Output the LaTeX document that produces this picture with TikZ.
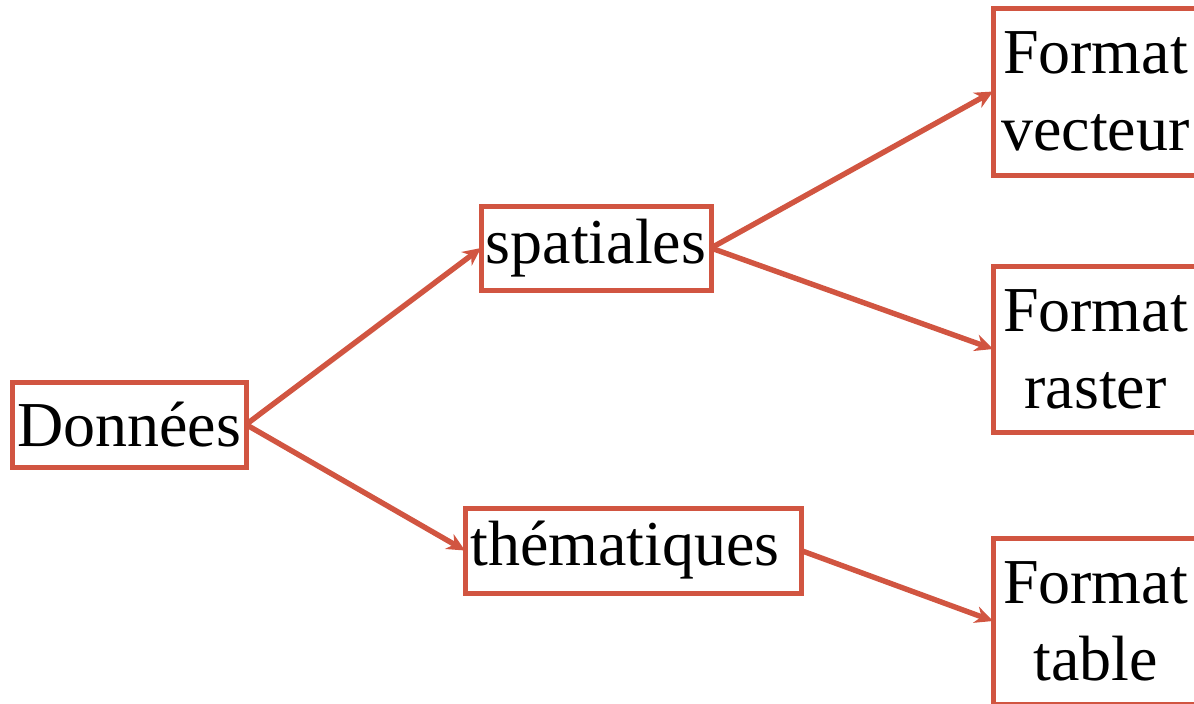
\documentclass[tikz,border=0pt]{standalone}
\usepackage{fontspec}
\setmainfont{Liberation Serif}
\usetikzlibrary{arrows.meta}
\definecolor{boxred}{RGB}{209,85,65}
\begin{document}
\begin{tikzpicture}[x=0.5pt,y=-0.5pt,
  box/.style={draw=boxred,line width=2.5pt,rectangle,inner sep=0pt,outer sep=0pt,
    font=\fontsize{32}{38.5}\selectfont,align=center,text=black},
  conn/.style={draw=boxred,line width=2.7pt,-{Stealth[length=9pt,width=8.5pt]}}]
\useasboundingbox (0,0) rectangle (1194,703);
\node[box,minimum width=117pt,minimum height=42.5pt] (don) at (129,424.5) {\raisebox{-1.5pt}{Données}};
\node[box,minimum width=115pt,minimum height=42pt] (spa) at (596,248) {spatiales};
\node[box,minimum width=168pt,minimum height=42.5pt] (the) at (633,550.5) {thématiques\hspace{8pt}};
\node[box,minimum width=102.5pt,minimum height=83.5pt] (vec) at (1095.5,91.5) {Format\\vecteur};
\node[box,minimum width=102.5pt,minimum height=83pt] (ras) at (1095.5,349) {Format\\raster};
\node[box,minimum width=102.5pt,minimum height=83pt] (tab) at (1095.5,621) {Format\\table};
\draw[conn] (don.east) -- (spa.west);
\draw[conn] (don.east) -- (the.west);
\draw[conn] (spa.east) -- (vec.west);
\draw[conn] (spa.east) -- (ras.west);
\draw[conn] (the.east) -- (tab.west);
\end{tikzpicture}
\end{document}
